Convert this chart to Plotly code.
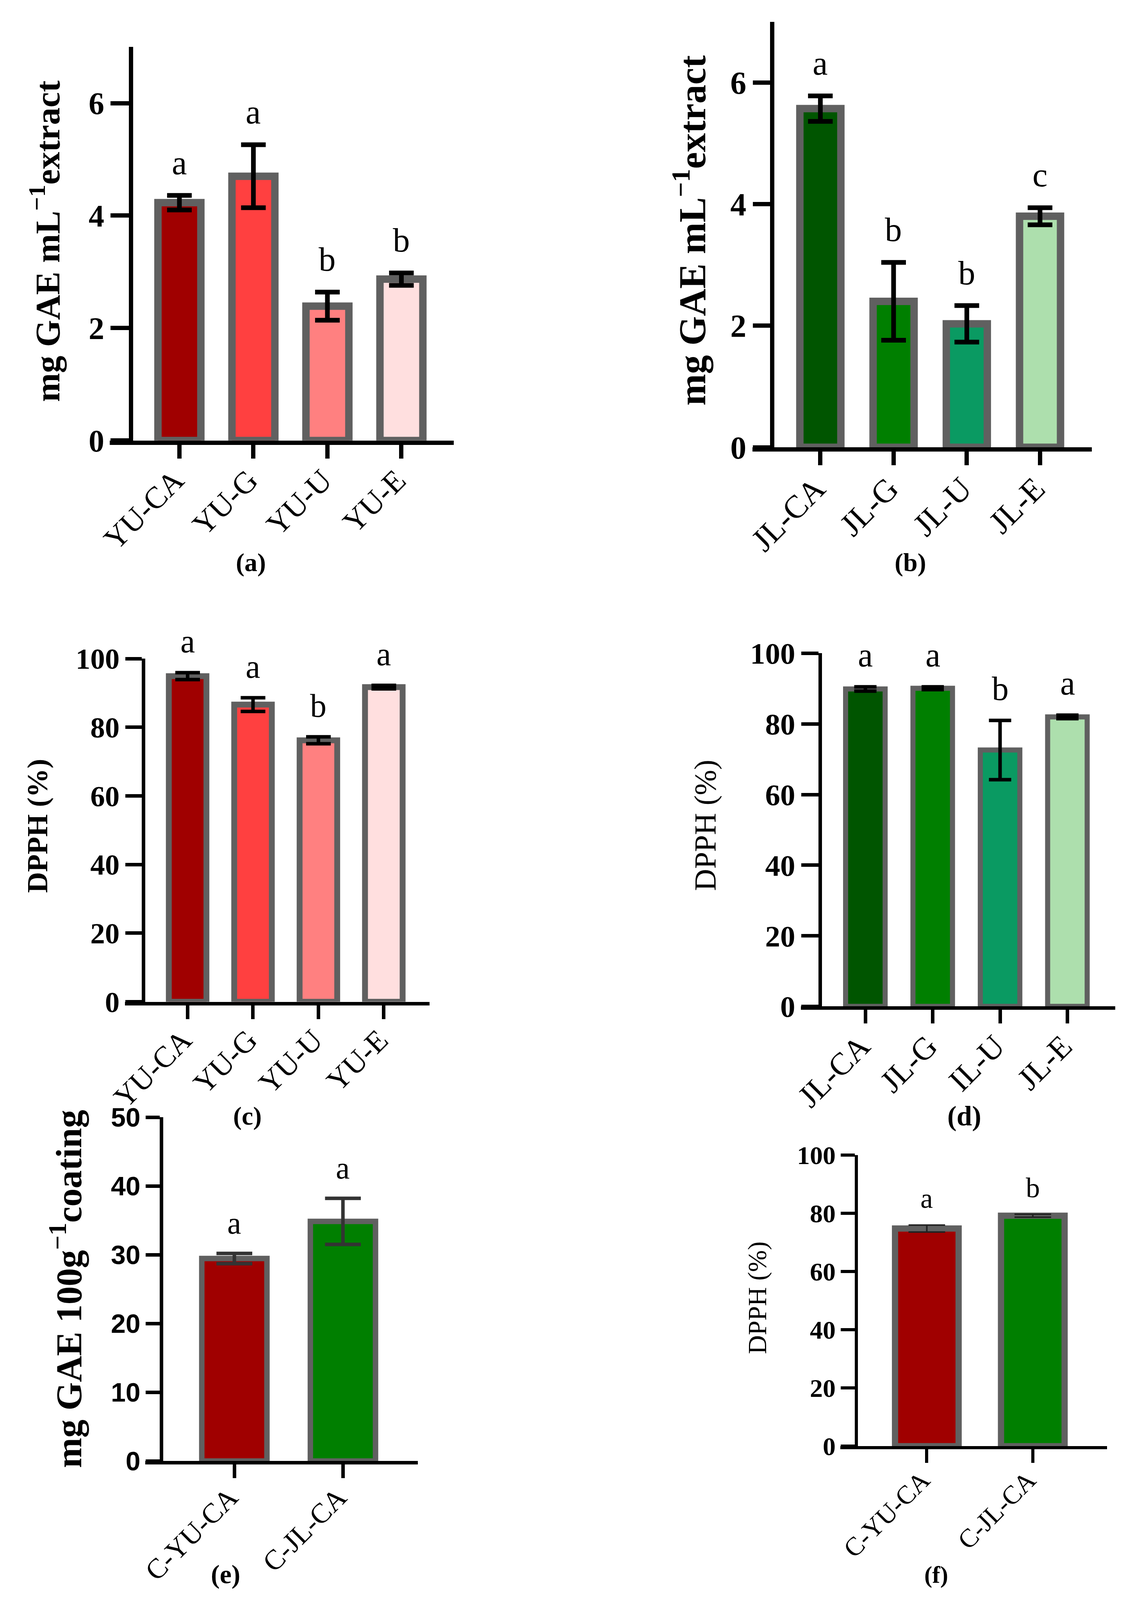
import plotly.graph_objects as go

SERIF = "Palatino Linotype, Book Antiqua, Palatino, Liberation Serif, serif"
SANS = "Arial, Liberation Sans, sans-serif"

# reference geometry is measured in reference pixels (2881 x 4492);
# the captured page shows a slightly different area, so map it across
RW, RH = 2881, 4492
PX, PY = 2935 / RW, 4175 / RH
OX, OY = 70, 51
W = round(RW * PX - OX)
H = round(RH * PY - OY)
SF = 0.95


def fx(r):
    return r * PX - OX


def fy(r):
    return r * PY - OY


# ---- data ----
yu_labels = ["YU-CA", "YU-G", "YU-U", "YU-E"]
jl_labels = ["JL-CA", "JL-G", "JL-U", "JL-E"]
jl_dpph_labels = ["JL-CA", "JL-G", "IL-U", "JL-E"]
coat_labels = ["C-YU-CA", "C-JL-CA"]

red_colors = ["#A00000", "#FF4040", "#FF8080", "#FFDFDF"]
green_colors = ["#005500", "#007F00", "#0A9A62", "#ADDFAD"]
coat_colors = ["#A00000", "#007F00"]

yu_tpc = [4.23, 4.70, 2.39, 2.87]
yu_tpc_err = [0.13, 0.56, 0.25, 0.11]
yu_tpc_sig = ["a", "a", "b", "b"]

jl_tpc = [5.57, 2.40, 2.03, 3.80]
jl_tpc_err = [0.21, 0.64, 0.30, 0.14]
jl_tpc_sig = ["a", "b", "b", "c"]

yu_dpph = [94.9, 86.6, 76.2, 91.7]
yu_dpph_err = [1.0, 2.0, 1.0, 0.5]
yu_dpph_sig = ["a", "a", "b", "a"]

jl_dpph = [89.9, 90.1, 72.6, 82.0]
jl_dpph_err = [0.6, 0.4, 8.4, 0.5]
jl_dpph_sig = ["a", "a", "b", "a"]

coat_tpc = [29.45, 34.85]
coat_tpc_err = [0.75, 3.35]
coat_tpc_sig = ["a", "a"]

coat_dpph = [74.8, 79.2]
coat_dpph_err = [1.2, 0.5]
coat_dpph_sig = ["a", "b"]

# ---- panel layout (reference-pixel geometry of each small chart) ----
panels = [
    dict(cats=yu_labels, y=yu_tpc, err=yu_tpc_err, sig=yu_tpc_sig, colors=red_colors,
         xl=296, xr=1175, yax=350, ytop=132, yzero=1240, xrange=[-0.942, 3.709], yrange=[0, 7], dtick=2,
         title="mg GAE mL<sup>−1</sup>extract", tsize=96, tbold=True, tpos=(130, 679),
         cap="(a)", cpos=(657, 1583), csize=70,
         tickfont=dict(family=SERIF, size=84, weight="bold"), catsize=82, sigsize=92,
         axw=11, yticklen=46, bw=0.58, blw=19, eth=12, ew=31, ecol="black", shift=36),
    dict(cats=jl_labels, y=jl_tpc, err=jl_tpc_err, sig=jl_tpc_sig, colors=green_colors,
         xl=1938, xr=2804, yax=1987, ytop=61, yzero=1259, xrange=[-0.925, 3.706], yrange=[0, 7], dtick=2,
         title="mg GAE mL<sup>−1</sup>extract", tsize=104, tbold=True, tpos=(1777, 648),
         cap="(b)", cpos=(2341, 1583), csize=70,
         tickfont=dict(family=SERIF, size=86, weight="bold"), catsize=86, sigsize=92,
         axw=11, yticklen=43, bw=0.56, blw=19, eth=12, ew=31, ecol="black", shift=36),
    dict(cats=yu_labels, y=yu_dpph, err=yu_dpph_err, sig=yu_dpph_sig, colors=red_colors,
         xl=335, xr=1113, yax=382, ytop=1854, yzero=2820, xrange=[-0.958, 3.70], yrange=[0, 100], dtick=20,
         title="DPPH (%)", tsize=80, tbold=True, tpos=(112, 2325),
         cap="(c)", cpos=(648, 3142), csize=70,
         tickfont=dict(family=SERIF, size=79, weight="bold"), catsize=80, sigsize=88,
         axw=9, yticklen=41, bw=0.575, blw=15, eth=9, ew=31, ecol="black", shift=34),
    dict(cats=jl_dpph_labels, y=jl_dpph, err=jl_dpph_err, sig=jl_dpph_sig, colors=green_colors,
         xl=2061, xr=2864, yax=2110, ytop=1839, yzero=2833, xrange=[-0.959, 3.71], yrange=[0, 100], dtick=20,
         title="DPPH (%)", tsize=84, tbold=False, tpos=(1816, 2323),
         cap="(d)", cpos=(2479, 3142), csize=75,
         tickfont=dict(family=SERIF, size=81, weight="bold"), catsize=84, sigsize=90,
         axw=9, yticklen=43, bw=0.587, blw=13, eth=9, ew=28, ecol="black", shift=34),
    dict(cats=coat_labels, y=coat_tpc, err=coat_tpc_err, sig=coat_tpc_sig, colors=coat_colors,
         xl=387, xr=1083, yax=428, ytop=3145, yzero=4113, xrange=[-0.82, 1.69], yrange=[0, 50], dtick=10,
         title="mg GAE 100g<sup>−1</sup>coating", tsize=100, tbold=True, tpos=(185, 3628),
         cap="(e)", cpos=(592, 4432), csize=72,
         tickfont=dict(family=SANS, size=72, weight="bold"), catsize=75, sigsize=84,
         axw=9, yticklen=35, bw=0.6, blw=14, eth=9, ew=45, ecol="#333333", shift=34),
    dict(cats=coat_labels, y=coat_dpph, err=coat_dpph_err, sig=coat_dpph_sig, colors=coat_colors,
         xl=2162, xr=2843, yax=2203, ytop=3252, yzero=4071, xrange=[-0.816, 1.70], yrange=[0, 100], dtick=20,
         title="DPPH (%)", tsize=72, tbold=False, tpos=(1950, 3653),
         cap="(f)", cpos=(2407, 4434), csize=64,
         tickfont=dict(family=SERIF, size=70, weight="bold"), catsize=70, sigsize=76,
         axw=8, yticklen=35, bw=0.6, blw=16, eth=4, ew=46, ecol="#222222", shift=28),
]

fig = go.Figure()
annotations = []
layout = {}

for i, p in enumerate(panels, start=1):
    xa, ya = f"x{i}", f"y{i}"
    fig.add_trace(go.Bar(
        x=p["cats"], y=p["y"], xaxis=xa, yaxis=ya, width=p["bw"],
        marker=dict(color=p["colors"], line=dict(color="#606060", width=p["blw"])),
        error_y=dict(type="data", array=p["err"], color=p["ecol"],
                     thickness=p["eth"], width=p["ew"] * PX),
        showlegend=False, hoverinfo="skip",
    ))

    tf = dict(p["tickfont"])
    tf["color"] = "black"
    tf["size"] = round(tf["size"] * SF)
    layout[f"xaxis{i}"] = dict(
        domain=[fx(p["xl"]) / W, fx(p["xr"]) / W], anchor=ya, type="category",
        range=p["xrange"], showline=True, linecolor="black", linewidth=p["axw"],
        ticks="outside", ticklen=round(38 * PY), tickwidth=p["axw"], tickcolor="black",
        tickangle=-45, ticklabelstandoff=-22, ticklabelshift=-12,
        showgrid=False, zeroline=False,
        tickfont=dict(family=SERIF, size=round(p["catsize"] * 0.96), color="black"),
    )
    layout[f"yaxis{i}"] = dict(
        domain=[1 - fy(p["yzero"]) / H, 1 - fy(p["ytop"]) / H], anchor="free",
        position=fx(p["yax"]) / W, range=p["yrange"], dtick=p["dtick"],
        showline=True, linecolor="black", linewidth=p["axw"],
        ticks="outside", ticklen=round(p["yticklen"] * PX), tickwidth=p["axw"], tickcolor="black",
        showgrid=False, zeroline=False, tickfont=tf,
    )

    # significance letters above the error bars
    for c, v, e, s in zip(p["cats"], p["y"], p["err"], p["sig"]):
        annotations.append(dict(
            x=c, y=v + e, xref=xa, yref=ya, text=s, showarrow=False,
            yanchor="bottom", yshift=p["shift"] * PY,
            font=dict(family=SERIF, size=round(p["sigsize"] * SF), color="black"),
        ))

    # y-axis title
    annotations.append(dict(
        x=fx(p["tpos"][0]) / W, y=1 - fy(p["tpos"][1]) / H, xref="paper", yref="paper",
        text=p["title"], textangle=-90, showarrow=False,
        xanchor="center", yanchor="middle",
        font=dict(family=SERIF, size=round(p["tsize"] * PY), color="black",
                  weight="bold" if p["tbold"] else "normal"),
    ))

    # panel caption
    annotations.append(dict(
        x=fx(p["cpos"][0]) / W, y=1 - fy(p["cpos"][1]) / H, xref="paper", yref="paper",
        text=p["cap"], showarrow=False, xanchor="center", yanchor="middle",
        font=dict(family=SERIF, size=round(p["csize"] * SF), color="black", weight="bold"),
    ))

fig.update_layout(
    width=W, height=H,
    margin=dict(l=0, r=0, t=0, b=0),
    paper_bgcolor="white", plot_bgcolor="white",
    annotations=annotations,
    **layout,
)

fig.write_html("out.html")
